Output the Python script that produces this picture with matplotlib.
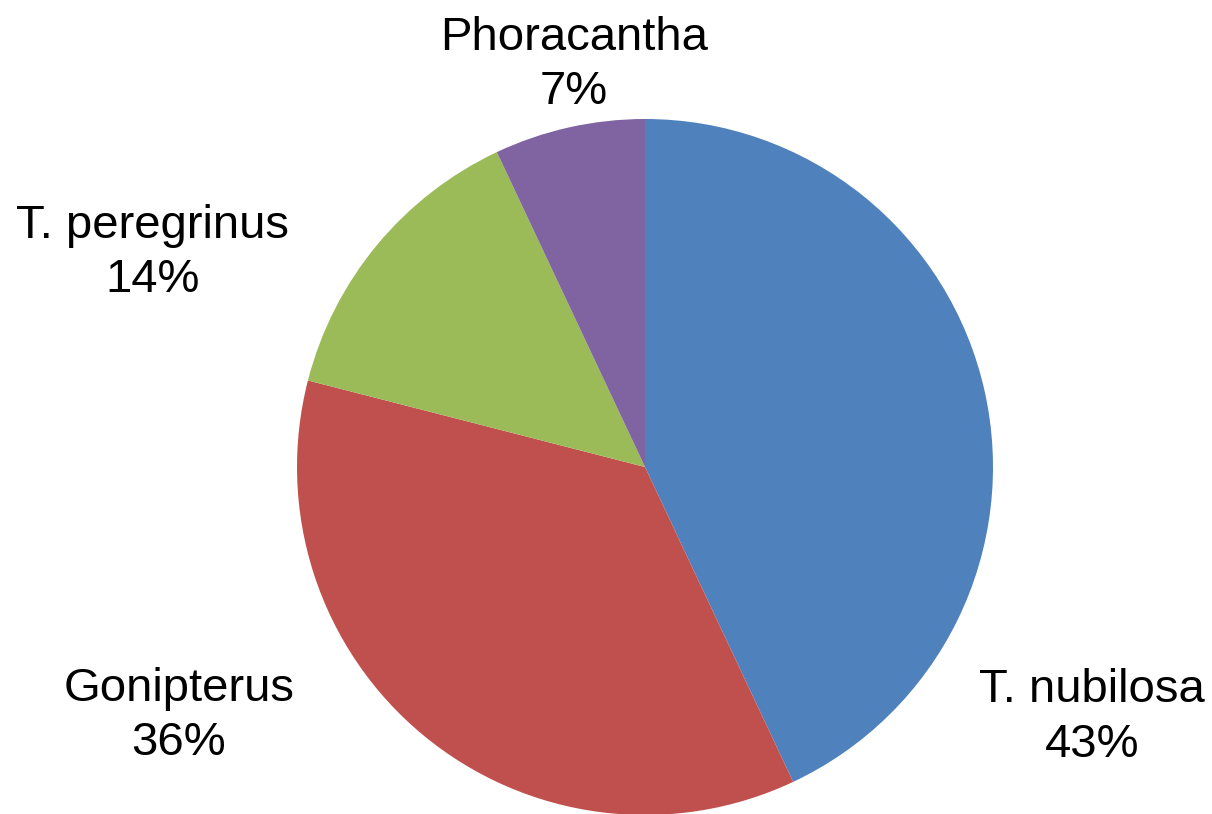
import matplotlib.pyplot as plt

especies = ["T. nubilosa", "Gonipterus", "T. peregrinus", "Phoracantha"]
valores = [43, 36, 14, 7]
cores = ["#4F81BD", "#C0504D", "#9BBB59", "#8064A2"]

# posicao dos rotulos (em unidades do raio, centro = 0,0)
pos_rotulos = [(1.285, -0.72), (-1.34, -0.715), (-1.415, 0.615), (-0.205, 1.155)]

plt.rcParams['font.family'] = ['Liberation Sans', 'DejaVu Sans']

fig = plt.figure(figsize=(12.12, 8.14), dpi=100)
ax = fig.add_axes([0, 0, 1, 1])

cx, cy, r = 645, 467, 348
W, H = 1212, 814

ax.pie(valores, colors=cores, startangle=90, counterclock=False,
       radius=1, wedgeprops=dict(linewidth=0))

total = sum(valores)
for nome, v, (x, y) in zip(especies, valores, pos_rotulos):
    ax.text(x, y, f"{nome}\n{v / total:.0%}", ha="center", va="center",
            fontsize=34, linespacing=1.3)

ax.set_xlim(-cx / r, (W - cx) / r)
ax.set_ylim((cy - H) / r, cy / r)
ax.set_aspect("auto")
ax.axis("off")

fig.savefig("out.png", dpi=100)
